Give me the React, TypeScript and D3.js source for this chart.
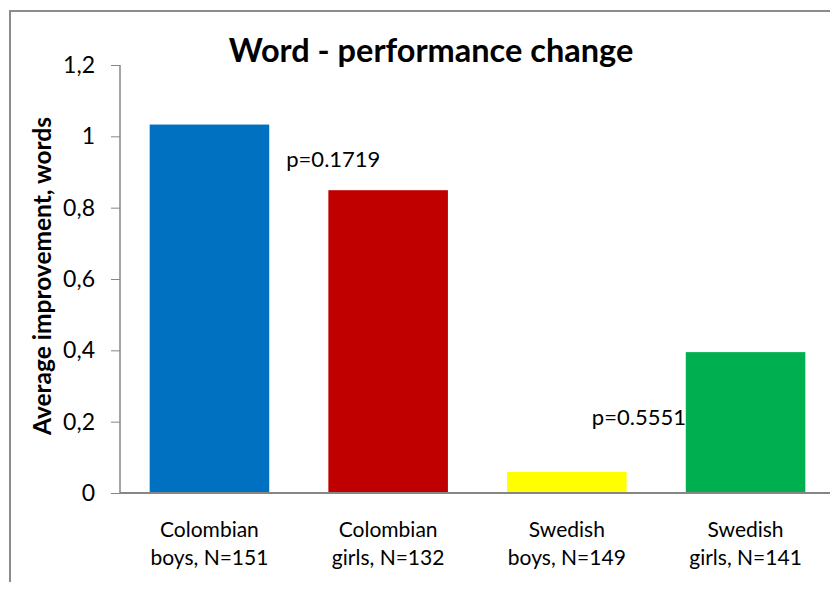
import { useRef, useEffect } from "react";
import * as d3 from "d3";

const categories = ["Colombian boys, N=151", "Colombian girls, N=132", "Swedish boys, N=149", "Swedish girls, N=141"];
const lineOne = ["Colombian", "Colombian", "Swedish", "Swedish"];
const lineTwo = ["boys, N=151", "girls, N=132", "boys, N=149", "girls, N=141"];
const values = [1.033, 0.849, 0.059, 0.395];
const colors = ["#0070c0", "#c00000", "#ffff00", "#00b050"];
const yTicks = [0, 0.2, 0.4, 0.6, 0.8, 1, 1.2];
// annotation position: category index (fractional) and value
const annotations = [
  { text: "p=0.1719", at: 0.43, value: 0.914 },
  { text: "p=0.5551", at: 2.14, value: 0.19 },
];

export default function App() {
  const ref = useRef<SVGSVGElement>(null);
  const width = 838;
  const height = 590;

  useEffect(() => {
    if (!ref.current) return;
    const svg = d3.select(ref.current);
    svg.selectAll("*").remove();
    const font = "Lato, 'Open Sans', sans-serif";

    // outer frame (only top + left visible)
    svg.append("path").attr("d", `M10,${height} V11 H${width}`)
      .attr("fill", "none").attr("stroke", "#8c8c8c").attr("stroke-width", 2);

    const m = { top: 65, right: 0, bottom: 97, left: 120 };
    const w = width - m.left - m.right;
    const h = height - m.top - m.bottom;
    const g = svg.append("g").attr("transform", `translate(${m.left},${m.top})`);

    const x = d3.scaleBand().domain(categories).range([0, w - 3]).paddingInner(0.331).paddingOuter(0.166);
    const y = d3.scaleLinear().domain([0, 1.2]).range([h, 0]);
    const xi = d3.scaleLinear().domain([0, 1])
      .range([x(categories[0])! + x.bandwidth() / 2, x(categories[1])! + x.bandwidth() / 2]);

    g.selectAll("rect.bar").data(values).enter().append("rect")
      .attr("x", (_, i) => x(categories[i])!)
      .attr("width", x.bandwidth())
      .attr("y", d => y(d))
      .attr("height", d => h - y(d))
      .attr("fill", (_, i) => colors[i]);

    const yAxis = g.append("g").call(
      d3.axisLeft(y).tickValues(yTicks).tickSize(9).tickPadding(16)
        .tickFormat(d => String(d).replace(".", ","))
    );
    yAxis.selectAll("text").attr("fill", "#000").attr("font-size", "23px").attr("font-family", font);
    yAxis.selectAll("line").attr("stroke", "#868686");
    yAxis.select(".domain").attr("stroke", "#868686").attr("stroke-width", 1.5).attr("d", `M0,0V${h}`);

    g.append("line").attr("x1", 0).attr("x2", w).attr("y1", h).attr("y2", h)
      .attr("stroke", "#868686").attr("stroke-width", 2);

    const labels = g.append("g").attr("font-family", font).attr("font-size", "21px").attr("text-anchor", "middle");
    categories.forEach((c, i) => {
      const cx = x(c)! + x.bandwidth() / 2;
      const t = labels.append("text").attr("x", cx).attr("y", h + 44);
      t.append("tspan").attr("x", cx).text(lineOne[i]);
      t.append("tspan").attr("x", cx).attr("dy", 28).text(lineTwo[i]);
    });

    annotations.forEach(a => {
      g.append("text")
        .attr("x", xi(a.at))
        .attr("y", y(a.value))
        .attr("font-family", font).attr("font-size", "22px").attr("fill", "#000")
        .text(a.text);
    });

    svg.append("text").attr("x", 431).attr("y", 62).attr("text-anchor", "middle")
      .attr("font-family", font).attr("font-weight", "bold").attr("font-size", "32.5px")
      .text("Word - performance change");

    svg.append("text")
      .attr("transform", `translate(51,${m.top + h / 2 - 3}) rotate(-90)`)
      .attr("text-anchor", "middle").attr("font-family", font)
      .attr("font-weight", "bold").attr("font-size", "24.5px")
      .text("Average improvement, words");
  }, []);

  return <svg ref={ref} width={width} height={height} style={{ display: "block", margin: "-8px" }} />;
}
